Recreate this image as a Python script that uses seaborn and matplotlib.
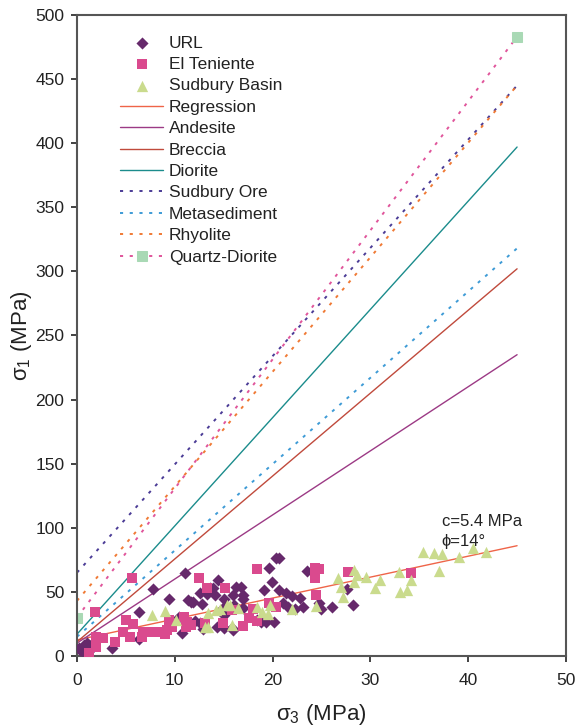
import matplotlib
matplotlib.use('Agg')
import matplotlib.pyplot as plt
import seaborn as sns
import pandas as pd

# ---------------- data ----------------
url_s3 = [0.2, 0.7, 1.0, 1.4, 0.85, 1.5, 0.5, 0.3, 3.6, 6.3, 7.8, 9.4, 11.4, 10.7, 10.4,
          11.0, 6.3, 9.5, 20.4, 20.7, 19.6, 23.5, 14.4, 19.9, 16.3, 16.8, 13.6, 13.9,
          12.6, 13.3, 14.1, 19.1, 20.7, 21.4, 22.0, 22.8, 17.0, 17.0, 15.0, 11.7, 12.75,
          14.9, 16.1, 17.0, 21.1, 21.6, 22.3, 18.4, 18.8, 19.3, 20.1, 14.3, 15.0, 16.0,
          12.1, 12.9, 12.6, 15.0, 15.9, 24.7, 25.0, 26.1, 28.2, 27.6, 16.0, 11.9, 23.1]
url_s1 = [6.5, 8.6, 9.9, 8.6, 6.0, 6.0, 3.9, 5.0, 6.5, 34.6, 52.3, 44.5, 43.7, 17.7, 30.7,
          65.0, 13.0, 23.4, 76.2, 76.2, 68.4, 66.3, 59.3, 58.0, 54.1, 54.1, 52.8, 53.3,
          49.4, 48.1, 47.6, 51.5, 51.5, 48.9, 47.0, 45.0, 47.6, 44.5, 44.5, 42.4, 40.3,
          37.7, 39.7, 37.2, 41.1, 38.5, 36.7, 28.1, 26.8, 26.3, 26.3, 22.9, 22.1, 20.3,
          27.3, 21.3, 25.5, 32.0, 21.6, 41.6, 36.4, 38.5, 39.8, 52.0, 47.6, 41.9, 38.0]

el_s3 = [1.8, 5.6, 5.0, 5.7, 4.7, 1.9, 2.7, 3.9, 1.2, 1.9, 5.45, 6.65, 6.8, 7.8, 8.2, 9.0,
         9.2, 9.4, 9.7, 10.9, 11.2, 11.1, 18.4, 12.5, 13.3, 15.1, 11.7, 13.1, 14.9, 17.0,
         17.6, 18.4, 18.0, 20.3, 19.6, 15.8, 24.3, 24.7, 24.3, 27.7, 24.4, 34.2]
el_s1 = [34.6, 61.1, 28.1, 25.2, 19.0, 14.8, 14.3, 11.2, 2.1, 7.3, 15.1, 15.1, 18.5, 18.5,
         18.5, 16.9, 20.3, 28.1, 22.9, 30.7, 26.8, 22.9, 67.9, 60.6, 53.3, 53.3, 24.2,
         25.5, 26.0, 23.4, 29.9, 27.3, 36.7, 38.5, 41.1, 35.9, 68.6, 67.9, 61.1, 65.3,
         47.6, 64.5]

sb_s3 = [7.7, 9.0, 10.1, 13.4, 14.2, 15.3, 15.6, 16.5, 18.4, 18.9, 19.7, 19.5, 22.0, 13.1,
         13.4, 15.9, 14.6, 28.3, 28.6, 26.7, 27.0, 28.3, 29.6, 31.0, 30.5, 27.2, 24.4,
         32.9, 33.0, 33.7, 34.2, 35.4, 36.5, 37.3, 37.0, 39.1, 40.5, 41.8]
sb_s1 = [32.0, 35.3, 28.1, 33.3, 35.9, 39.8, 39.8, 37.2, 38.5, 34.6, 39.8, 32.5, 36.4, 22.9,
         22.9, 24.2, 36.7, 67.1, 63.2, 60.6, 54.1, 58.0, 61.9, 59.3, 53.3, 46.3, 39.2,
         65.8, 50.2, 51.5, 59.3, 81.4, 80.1, 79.3, 66.6, 77.5, 84.0, 81.4]

line_names = ['Regression', 'Andesite', 'Breccia', 'Diorite',
              'Sudbury Ore', 'Metasediment', 'Rhyolite', 'Quartz-Diorite']
line_s3 = [0, 45]
line_s1_start = [12.5, 10, 11, 17, 65, 15, 43, 30]
line_s1_end = [86, 235, 302, 397, 445, 318, 445, 483]

x_ticks = [0, 10, 20, 30, 40, 50]
y_ticks = [0, 50, 100, 150, 200, 250, 300, 350, 400, 450, 500]

# ---------------- styles ----------------
line_colors = ['#EF6448', '#9C3A85', '#C04A3C', '#1B8C8C',
               '#4B3C96', '#3E9BD6', '#F07A35', '#E0559B']
line_dotted = [False, False, False, False, True, True, True, True]

sns.set_theme(style='ticks')
plt.rcParams['font.family'] = ['Liberation Sans', 'DejaVu Sans']
plt.rcParams['mathtext.fontset'] = 'custom'
plt.rcParams['mathtext.rm'] = 'Liberation Sans'
plt.rcParams['mathtext.it'] = 'Liberation Sans'

fig = plt.figure(figsize=(5.78, 7.27), dpi=100)
ax = fig.add_axes([0.1332, 0.0977, 0.846, 0.8817])

for name, y0, y1, c, dot in zip(line_names, line_s1_start, line_s1_end, line_colors, line_dotted):
    df = pd.DataFrame({'s3': line_s3, 's1': [y0, y1]})
    kw = dict(color=c, lw=1.0, zorder=2)
    if dot:
        kw.update(lw=1.4, linestyle=(0, (1.6, 3.4)))
    if name == 'Quartz-Diorite':
        kw.update(marker='s', markersize=7, markerfacecolor='#A9D9B5',
                  markeredgecolor='#A9D9B5')
    sns.lineplot(data=df, x='s3', y='s1', ax=ax, label=name, sort=False, **kw)

sns.scatterplot(x=url_s3, y=url_s1, ax=ax, marker='D', s=38, color='#66296B',
                linewidth=0, label='URL', zorder=3)
sns.scatterplot(x=el_s3, y=el_s1, ax=ax, marker='s', s=55, color='#DA4A8E',
                linewidth=0, label='El Teniente', zorder=3)
sns.scatterplot(x=sb_s3, y=sb_s1, ax=ax, marker='^', s=66, color='#CADB8D',
                linewidth=0, label='Sudbury Basin', zorder=4)

handles, labels = ax.get_legend_handles_labels()
order = ['URL', 'El Teniente', 'Sudbury Basin'] + line_names
hmap = dict(zip(labels, handles))
ax.legend([hmap[k] for k in order], order, loc='upper left',
          bbox_to_anchor=(0.088, 0.968), frameon=False, fontsize=12.5,
          handlelength=2.5, handletextpad=0.3, labelspacing=0.36,
          borderpad=0, borderaxespad=0, labelcolor='#222222')

ax.text(37.3, 101, 'c=5.4 MPa', fontsize=12, color='#222222')
ax.text(37.3, 86, 'ϕ=14°', fontsize=12, color='#222222')

ax.set_xlim(0, 50)
ax.set_ylim(0, 500)
ax.set_xticks(x_ticks)
ax.set_yticks(y_ticks)
ax.set_xlabel('σ$_3$ (MPa)', fontsize=16, color='#222222', labelpad=10)
ax.set_ylabel('σ$_1$ (MPa)', fontsize=16, color='#222222', labelpad=1)
ax.tick_params(axis='x', length=4, width=1.2, pad=8, labelsize=12.5,
               colors='#222222', direction='out')
ax.tick_params(axis='y', length=4, width=1.2, pad=5, labelsize=12.5,
               colors='#222222', direction='out')
for sp in ax.spines.values():
    sp.set_visible(True)
    sp.set_color('#555555')
    sp.set_linewidth(1.5)

fig.savefig('out.png', dpi=100)
